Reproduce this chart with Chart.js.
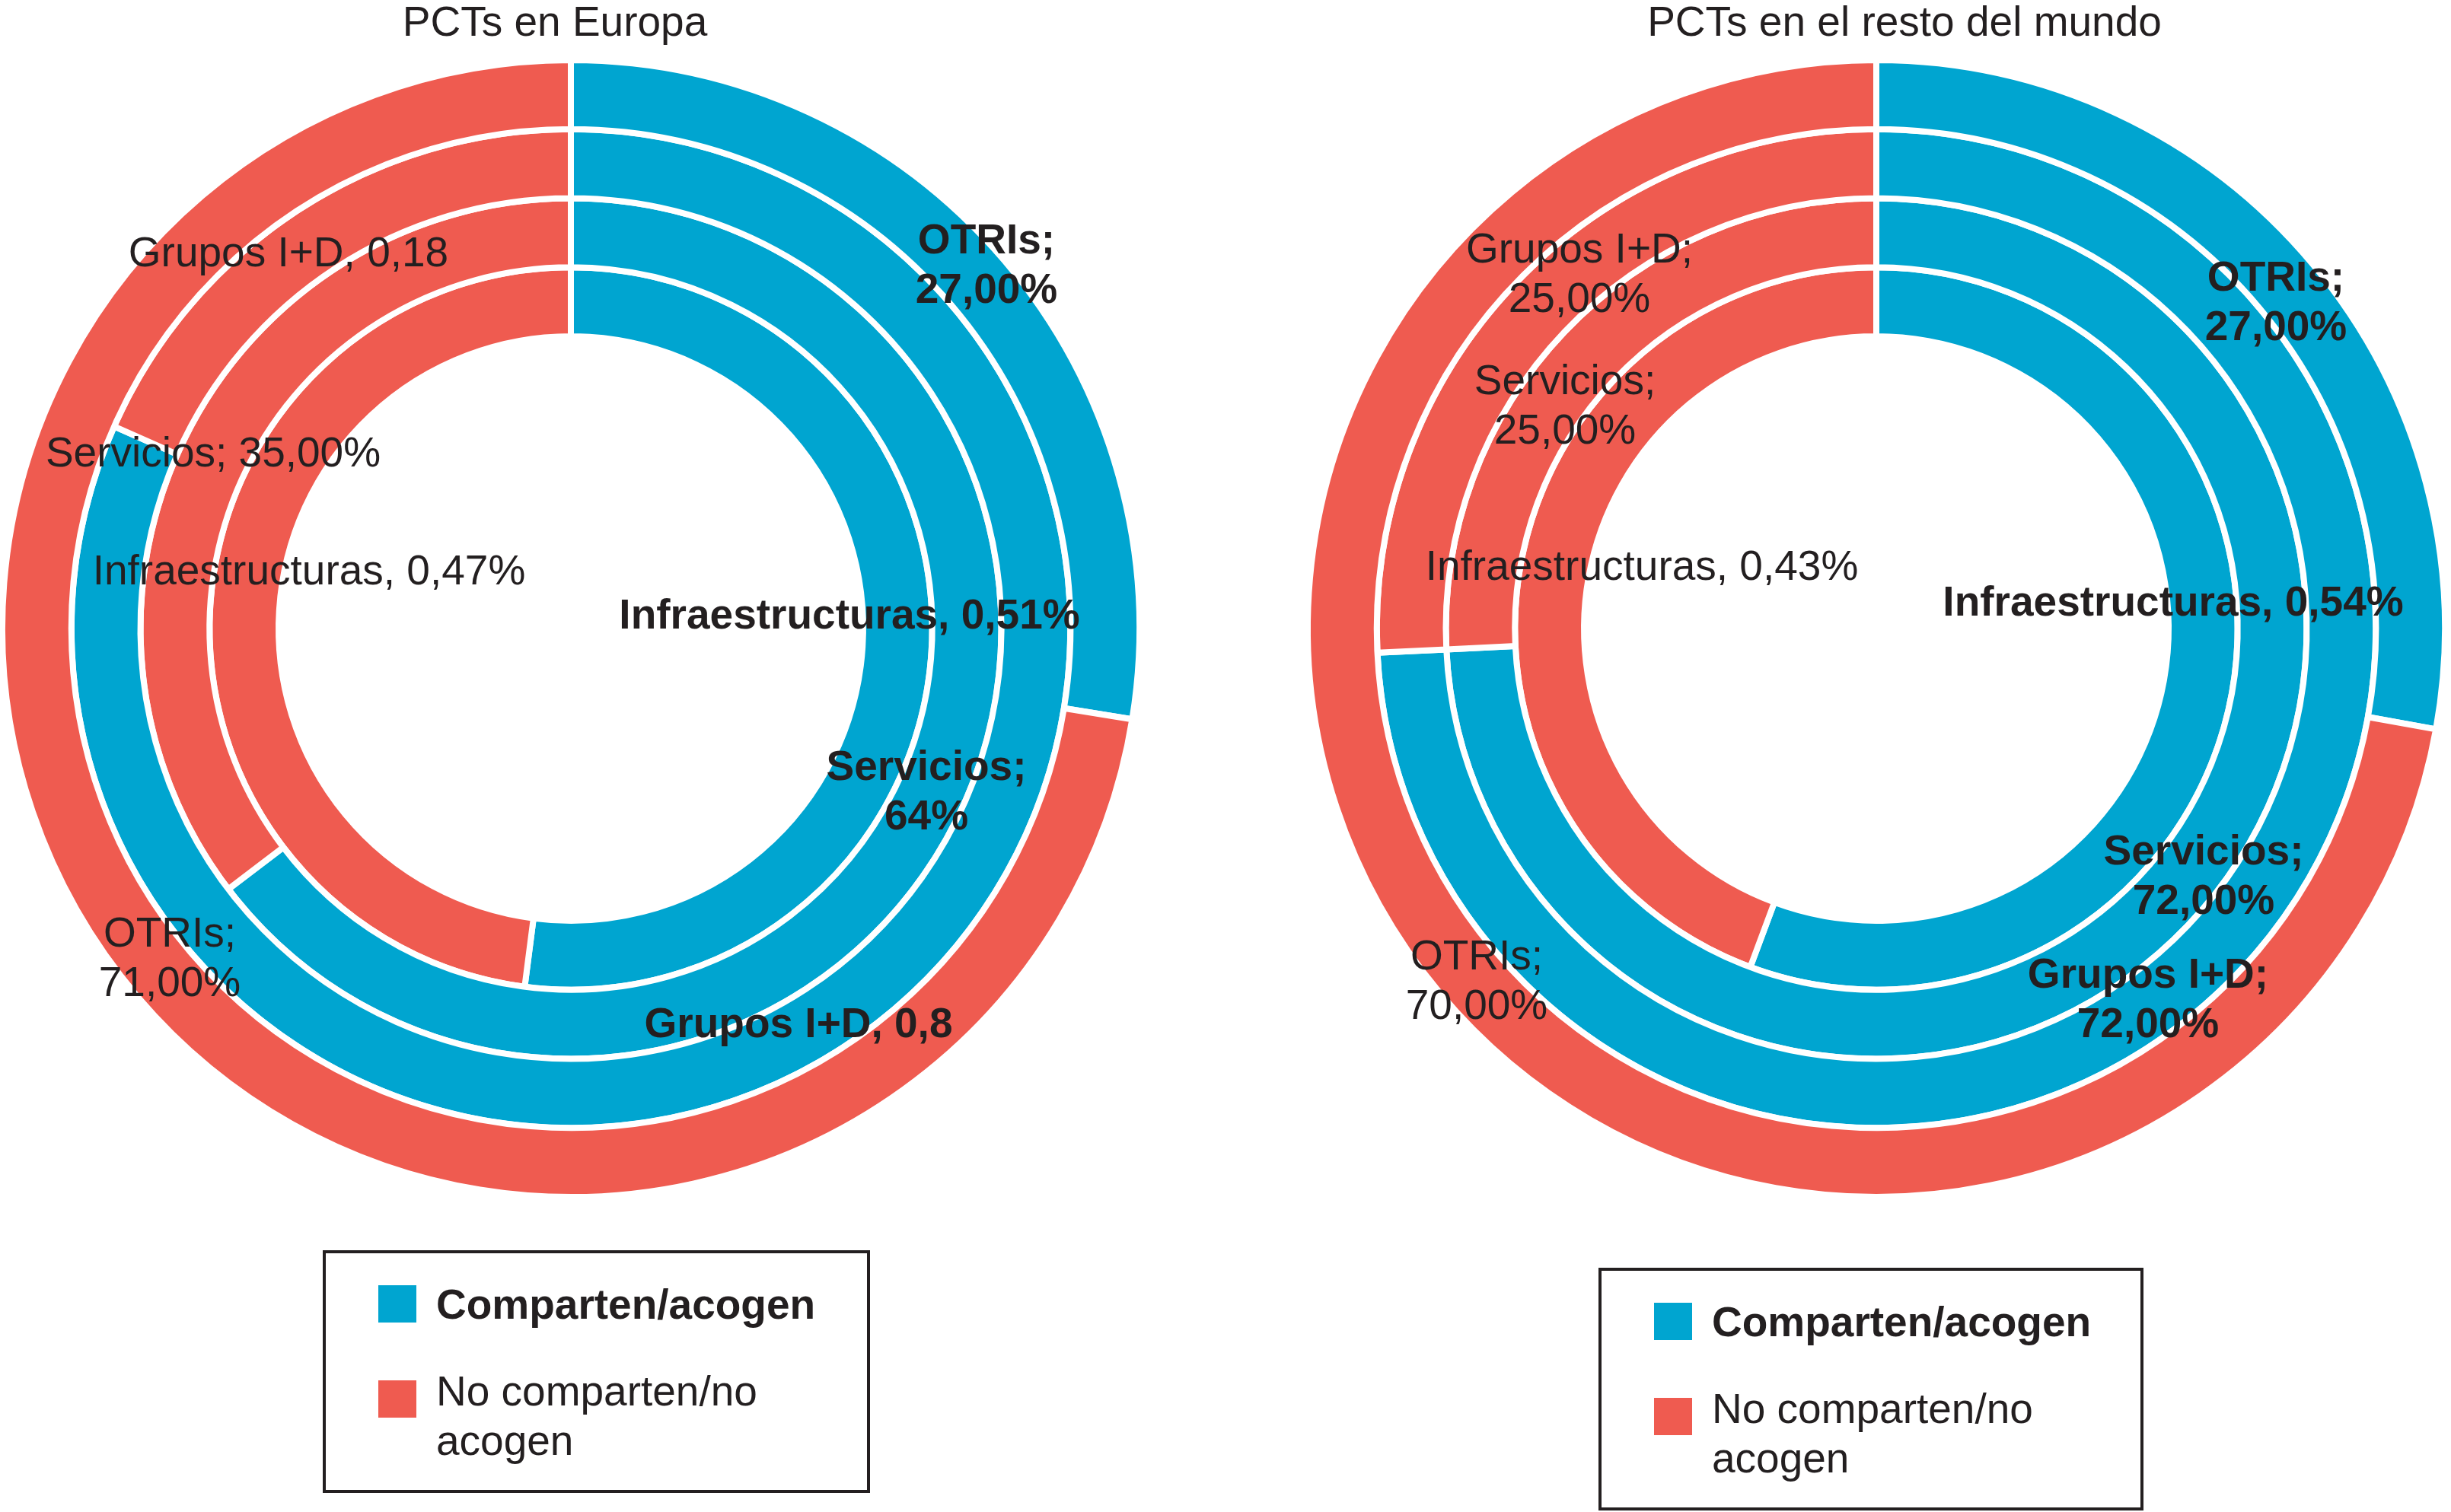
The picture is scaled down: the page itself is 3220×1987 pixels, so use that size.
<!DOCTYPE html>
<html>
<head>
<meta charset="utf-8">
<script src="https://cdn.jsdelivr.net/npm/chart.js@4.4.0/dist/chart.umd.min.js"></script>
<style>
  html, body { margin: 0; padding: 0; background: #fff; }
  #wrap { position: relative; width: 3220px; height: 1987px; }
  canvas { position: absolute; top: 0; }
</style>
</head>
<body>
<div id="wrap">
  <canvas id="europa" width="1610" height="1987" style="left:0px"></canvas>
  <canvas id="mundo" width="1610" height="1987" style="left:1610px"></canvas>
</div>
<script>
// anillos de fuera a dentro
var rings = ['OTRIs', 'Grupos I+D', 'Servicios', 'Infraestructuras'];
var series = ['Comparten/acogen', 'No comparten/no acogen'];
var titles = ['PCTs en Europa', 'PCTs en el resto del mundo'];

// [comparten, no comparten] por anillo
var europaOtris = [27, 71];
var europaGrupos = [0.8, 0.18];
var europaServicios = [64, 35];
var europaInfra = [0.51, 0.47];

var mundoOtris = [27, 70];
var mundoGrupos = [72, 25];
var mundoServicios = [72, 25];
var mundoInfra = [0.54, 0.43];

// textos de las etiquetas, tal como salen en la figura
var europaTextos = [
  ['OTRIs;\n27,00%', 'OTRIs;\n71,00%'],
  ['Grupos I+D, 0,8', 'Grupos I+D, 0,18'],
  ['Servicios;\n64%', 'Servicios; 35,00%'],
  ['Infraestructuras, 0,51%', 'Infraestructuras, 0,47%']
];
var mundoTextos = [
  ['OTRIs;\n27,00%', 'OTRIs;\n70,00%'],
  ['Grupos I+D;\n72,00%', 'Grupos I+D;\n25,00%'],
  ['Servicios;\n72,00%', 'Servicios;\n25,00%'],
  ['Infraestructuras, 0,54%', 'Infraestructuras, 0,43%']
];

var azul = '#00a5d0';
var rojo = '#ef5b50';
var tinta = '#231f20';
var fuente = '"Liberation Sans", Arial, Helvetica, sans-serif';
var tam = '55px ';

function wrapText(ctx, text, maxW) {
  var words = text.split(' ');
  var lines = [];
  var cur = '';
  words.forEach(function(w) {
    var test = cur ? cur + ' ' + w : w;
    if (cur && ctx.measureText(test).width > maxW) {
      lines.push(cur);
      cur = w;
    } else {
      cur = test;
    }
  });
  if (cur) lines.push(cur);
  return lines;
}

// etiquetas de los anillos, titulo y leyenda con recuadro
var decor = {
  id: 'decor',
  afterDatasetsDraw: function(chart, args, opts) {
    var ctx = chart.ctx;
    ctx.save();
    ctx.fillStyle = tinta;
    ctx.textAlign = 'center';
    ctx.textBaseline = 'alphabetic';
    chart.data.datasets.forEach(function(ds, i) {
      var meta = chart.getDatasetMeta(i);
      meta.data.forEach(function(arc, j) {
        var p = opts.pos[i][j];
        var lines = opts.textos[i][j].split('\n');
        ctx.font = (j === 0 ? 'bold ' : '') + tam + fuente;
        lines.forEach(function(t, k) {
          ctx.fillText(t, arc.x + p[0], arc.y + p[1] + k * 65);
        });
      });
    });

    // titulo
    ctx.font = tam + fuente;
    ctx.fillText(opts.title, opts.titleX, 47);

    // leyenda
    var b = opts.box;
    ctx.lineWidth = 4;
    ctx.strokeStyle = tinta;
    ctx.strokeRect(b.x + 2, b.y + 2, b.w - 4, b.h - 4);
    ctx.textAlign = 'left';
    var colores = [azul, rojo];
    var sqTop = [46, 171];
    var base = [90, 204];
    series.forEach(function(s, k) {
      ctx.fillStyle = colores[k];
      ctx.fillRect(b.x + 73, b.y + sqTop[k], 50, 49);
      ctx.fillStyle = tinta;
      ctx.font = (k === 0 ? 'bold ' : '') + tam + fuente;
      wrapText(ctx, s, 530).forEach(function(t, n) {
        ctx.fillText(t, b.x + 149, b.y + base[k] + n * 65);
      });
    });
    ctx.restore();
  }
};

function makeChart(id, valores, textos, pos, padL, padR, title, titleX, box) {
  return new Chart(document.getElementById(id), {
    type: 'doughnut',
    data: {
      labels: series,
      datasets: valores.map(function(v, i) {
        return {
          label: rings[i],
          data: v,
          backgroundColor: [azul, rojo],
          borderColor: '#ffffff',
          borderWidth: 8
        };
      })
    },
    options: {
      responsive: false,
      devicePixelRatio: 1,
      animation: false,
      radius: 747,
      cutout: '51.4%',
      layout: { padding: { left: padL, right: padR, top: 71, bottom: 406 } },
      plugins: {
        legend: { display: false },
        tooltip: { enabled: false },
        decor: { textos: textos, pos: pos, title: title, titleX: titleX, box: box }
      }
    },
    plugins: [decor]
  });
}

makeChart('europa',
  [europaOtris, europaGrupos, europaServicios, europaInfra],
  europaTextos,
  [[[546, -493], [-527, 418]],
   [[299, 537], [-371, -476]],
   [[467, 199], [-470, -213]],
   [[366, 0], [-344, -58]]],
  0, 110, titles[0], 729,
  { x: 424, y: 1643, w: 719, h: 319 });

makeChart('mundo',
  [mundoOtris, mundoGrupos, mundoServicios, mundoInfra],
  mundoTextos,
  [[[525, -444], [-525, 448]],
   [[357, 472], [-390, -481]],
   [[430, 310], [-409, -308]],
   [[390, -17], [-308, -64]]],
  105, 5, titles[1], 892,
  { x: 490, y: 1666, w: 716, h: 319 });
</script>
</body>
</html>
